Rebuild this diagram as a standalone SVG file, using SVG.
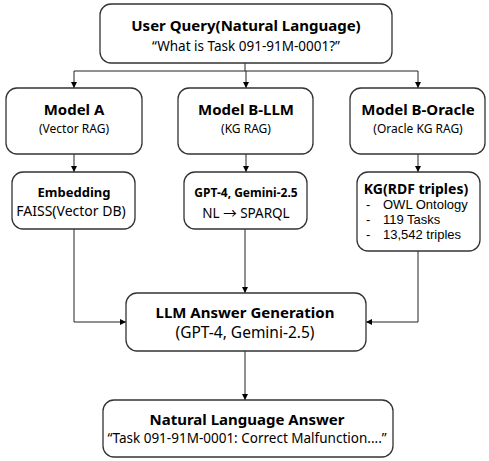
<svg xmlns="http://www.w3.org/2000/svg" width="489" height="461" viewBox="0 0 489 461">
<style>
.box{fill:#fff;stroke:#333;stroke-width:1.3}
.t{font-family:"Noto Sans","Noto Sans CJK KR",sans-serif;fill:#000;text-anchor:middle}
.b{font-weight:bold;font-size:15px}
.s{font-size:12px}
.c{fill:none;stroke:#222;stroke-width:1}
.li{font-family:"Liberation Sans",Arial,sans-serif;font-size:13px;fill:#000}
</style>
<defs>
<marker id="ah" markerWidth="6" markerHeight="6" refX="6" refY="3" orient="auto" markerUnits="userSpaceOnUse">
<path d="M0,0 L6,3 L0,6 Z" fill="#000"/>
</marker>
</defs>
<g id="connectors">
<path class="c" d="M245,63 V71"/>
<path class="c" d="M74,71 H418"/>
<path class="c" d="M74,71 V88" marker-end="url(#ah)"/>
<path class="c" d="M246,71 V88" marker-end="url(#ah)"/>
<path class="c" d="M418,71 V88" marker-end="url(#ah)"/>
<path class="c" d="M74,154 V172" marker-end="url(#ah)"/>
<path class="c" d="M246,154 V172" marker-end="url(#ah)"/>
<path class="c" d="M418,154 V172" marker-end="url(#ah)"/>
<path class="c" d="M74,229 V322 H126" marker-end="url(#ah)"/>
<path class="c" d="M418,251 V322 H366" marker-end="url(#ah)"/>
<path class="c" d="M245,229 V293" marker-end="url(#ah)"/>
<path class="c" d="M245,351 V400" marker-end="url(#ah)"/>
</g>
<g id="query">
<rect class="box" x="100" y="4" width="292" height="59" rx="11"/>
<text class="t b" x="246" y="31">User Query(Natural Language)</text>
<text class="t" x="246" y="50.5" style="font-size:13.5px">“What is Task 091-91M-0001?”</text>
</g>
<g id="modelA">
<rect class="box" x="6" y="88" width="136" height="66" rx="11"/>
<text class="t b" x="74" y="115">Model A</text>
<text class="t s" x="74" y="133">(Vector RAG)</text>
</g>
<g id="modelBLLM">
<rect class="box" x="178" y="88" width="135" height="66" rx="11"/>
<text class="t b" x="246" y="115">Model B-LLM</text>
<text class="t s" x="246" y="133">(KG RAG)</text>
</g>
<g id="modelBOracle">
<rect class="box" x="350" y="88" width="135" height="66" rx="11"/>
<text class="t b" x="418" y="115">Model B-Oracle</text>
<text class="t s" x="418" y="133">(Oracle KG RAG)</text>
</g>
<g id="embedding">
<rect class="box" x="12" y="172" width="123" height="57" rx="11"/>
<text class="t" x="74" y="197" style="font-weight:bold;font-size:13px">Embedding</text>
<text class="t" x="71" y="216" style="font-size:14px">FAISS(Vector DB)</text>
</g>
<g id="nl2sparql">
<rect class="box" x="184" y="172" width="123" height="57" rx="11"/>
<text class="t" x="246" y="197" style="font-weight:bold;font-size:12px">GPT-4, Gemini-2.5</text>
<text class="t" x="246" y="218" style="font-size:13.5px">NL → SPARQL</text>
</g>
<g id="kg">
<rect class="box" x="357" y="172" width="123" height="79" rx="11"/>
<text class="t" x="416" y="194" style="font-weight:bold;font-size:14px">KG(RDF triples)</text>
<text class="li" x="366" y="209">-</text><text class="li" x="383" y="209">OWL Ontology</text>
<text class="li" x="366" y="224">-</text><text class="li" x="383" y="224">119 Tasks</text>
<text class="li" x="366" y="239">-</text><text class="li" x="383" y="239">13,542 triples</text>
</g>
<g id="llm">
<rect class="box" x="126" y="293" width="240" height="58" rx="11"/>
<text class="t b" x="245" y="318">LLM Answer Generation</text>
<text class="t" x="245" y="338" style="font-size:15.5px">(GPT-4, Gemini-2.5)</text>
</g>
<g id="answer">
<rect class="box" x="103" y="400" width="290" height="57" rx="11"/>
<text class="t b" x="247" y="425">Natural Language Answer</text>
<text class="t" x="247" y="443" style="font-size:13.5px">“Task 091-91M-0001: Correct Malfunction....”</text>
</g>
</svg>
